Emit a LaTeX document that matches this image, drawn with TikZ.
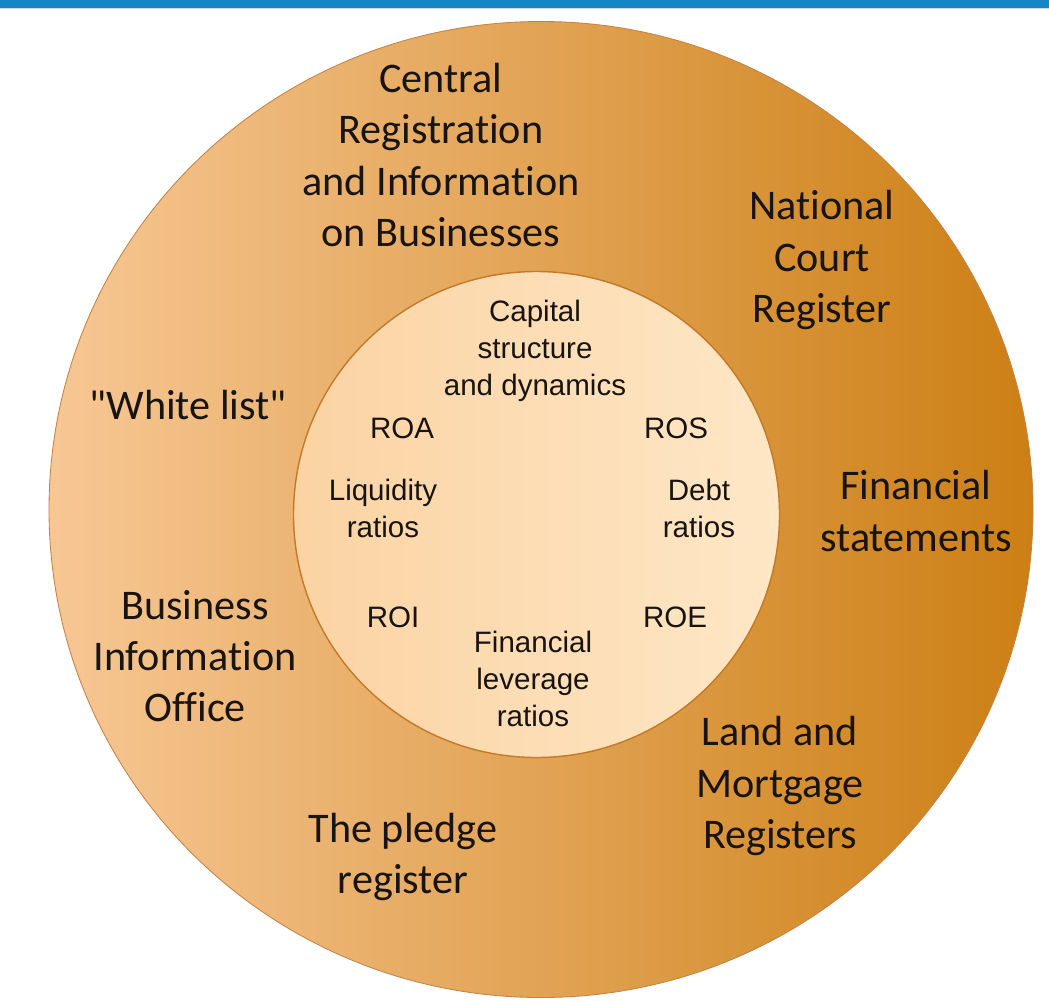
\documentclass[tikz,border=0pt]{standalone}
\usepackage{fontspec}
\setmainfont{Carlito}[Ligatures={TeXOff,NoCommon}]
\newfontfamily\arialfont{Liberation Sans}
\definecolor{barblue}{RGB}{20,133,197}
\definecolor{barline}{RGB}{196,218,232}
\definecolor{ringleft}{RGB}{247,199,148}
\definecolor{ringright}{RGB}{204,127,20}
\definecolor{ringedge}{RGB}{196,130,70}
\definecolor{coreleft}{RGB}{251,211,163}
\definecolor{coreright}{RGB}{254,231,198}
\definecolor{coreedge}{RGB}{196,120,40}
\definecolor{ink}{RGB}{24,20,18}
\begin{document}
\begin{tikzpicture}[x=0.025cm, y=-0.025cm,
    outer/.style={text=ink, align=center, font=\fontsize{30}{36.5}\selectfont},
    inner/.style={text=ink, align=center, font=\arialfont\fontsize{21}{26.3}\selectfont}]
    \useasboundingbox (0,0) rectangle (1049,1000);
    \fill[barblue] (0,0) rectangle (1049,8);
    \draw[barline, line width=0.6pt] (0,8.6) -- (1049,8.6);
    % rings
    \shade[left color=ringleft, right color=ringright, draw=ringedge, line width=0.6pt]
        (541,509.5) ellipse [x radius=492, y radius=488];
    \shade[left color=coreleft, right color=coreright, draw=coreedge, line width=1pt]
        (536.5,514.5) circle [radius=243];
    % outer ring
    \node[outer] (crib) at (441,155) {Central\\Registration\\and Information\\on Businesses};
    \node[outer] (ncr) at (822,260) {National\\Court\\Register};
    \node[outer] (white) at (188,405) {"White list"};
    \node[outer] (fs) at (916,511) {Financial\\statements};
    \node[outer] (bio) at (195,656) {Business\\Information\\Office};
    \node[outer] (land) at (780,786) {Land and\\Mortgage\\Registers};
    \node[outer] (pledge) at (403,857) {The pledge\\register};
    % inner circle
    \node[inner] (capital) at (535,351) {Capital\\structure\\and dynamics};
    \node[inner] (roa) at (402,428) {ROA};
    \node[inner] (ros) at (676,428) {ROS};
    \node[inner] (liq) at (383,508) {Liquidity\\ratios};
    \node[inner] (debt) at (699,508) {Debt\\ratios};
    \node[inner] (roi) at (393,617) {ROI};
    \node[inner] (roe) at (675,617) {ROE};
    \node[inner] (lev) at (533,679) {Financial\\leverage\\ratios};
\end{tikzpicture}
\end{document}
